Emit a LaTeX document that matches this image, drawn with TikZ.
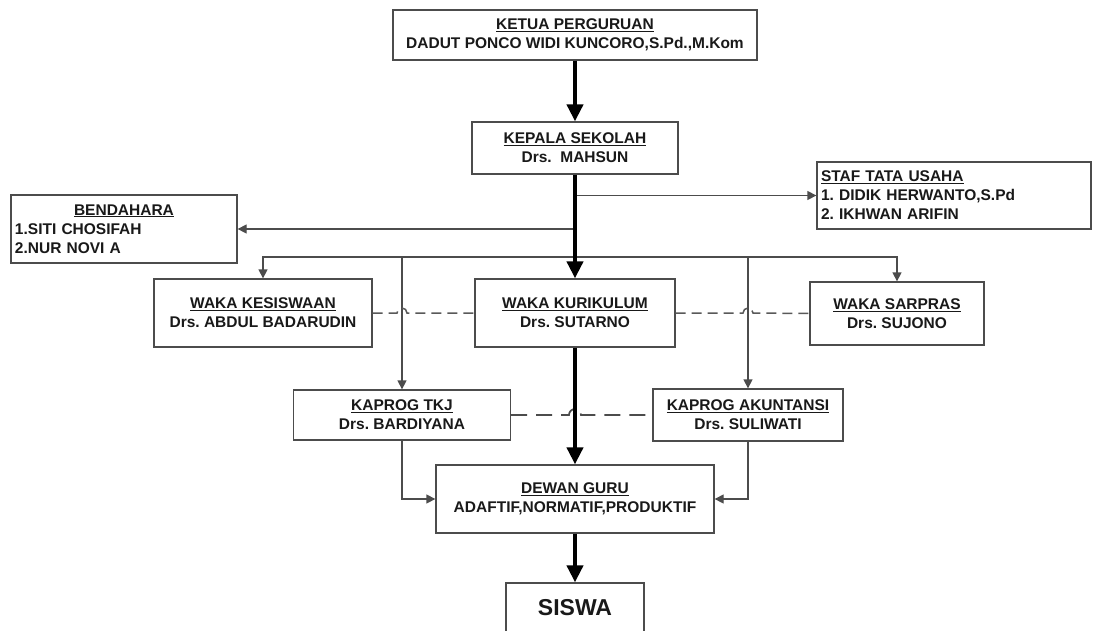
\documentclass[tikz,border=0pt]{standalone}
\usepackage{fontspec}
\setmainfont{Liberation Sans}
\usetikzlibrary{arrows.meta}
\frenchspacing
\begin{document}
\begin{tikzpicture}[x=1pt,y=-1pt,
  box/.style={draw=black!70, line width=1.3pt, fill=white, inner sep=0pt,
    font=\bfseries\fontsize{15.5}{19}\selectfont, align=center, text=black!90},
  thick arrow/.style={line width=4pt, draw=black, -{Triangle[length=17pt,width=16pt]}},
  thin arrow/.style={line width=1.3pt, draw=black!70, -{Triangle[length=9pt,width=9pt]}},
  dashA/.style={line width=1.5pt, draw=black!65, dash pattern=on 10pt off 6pt},
  dashB/.style={line width=1.7pt, draw=black!70, dash pattern=on 16pt off 9pt}]
\useasboundingbox (0,0) rectangle (1093,630);
\clip (0,0) rectangle (1093,630);
\fill[white] (0,0) rectangle (1093,630);

\node[box, minimum width=364pt, minimum height=50pt] (ketua) at (575,35)
  {\underline{KETUA PERGURUAN}\\DADUT PONCO WIDI KUNCORO,S.Pd.,M.Kom};
\node[box, minimum width=206pt, minimum height=52pt] (kepala) at (575,148)
  {\underline{KEPALA SEKOLAH}\\Drs.\ \ MAHSUN};
\node[box, minimum width=274pt, minimum height=67pt, text width=266pt, align=left] (staf) at (954,195.5)
  {\underline{STAF TATA USAHA}\\1. DIDIK HERWANTO,S.Pd\\2. IKHWAN ARIFIN};
\node[box, minimum width=226pt, minimum height=68pt, text width=218pt, align=left] (bend) at (124,229)
  {\makebox[218pt]{\underline{BENDAHARA}}\\1.SITI CHOSIFAH\\2.NUR NOVI A};
\node[box, minimum width=218pt, minimum height=68pt] (kesis) at (263,313)
  {\underline{WAKA KESISWAAN}\\Drs. ABDUL BADARUDIN};
\node[box, minimum width=200pt, minimum height=68pt] (kurik) at (575,313)
  {\underline{WAKA KURIKULUM}\\Drs. SUTARNO};
\node[box, minimum width=174pt, minimum height=63pt] (sarpras) at (897,313.5)
  {\underline{WAKA SARPRAS}\\Drs. SUJONO};
\node[box, minimum width=217pt, minimum height=50pt] (tkj) at (402,415)
  {\underline{KAPROG TKJ}\\Drs. BARDIYANA};
\node[box, minimum width=190pt, minimum height=52pt] (akun) at (748,415)
  {\underline{KAPROG AKUNTANSI}\\Drs. SULIWATI};
\node[box, minimum width=278pt, minimum height=68pt] (dewan) at (575,499)
  {\underline{DEWAN GURU}\\ADAFTIF,NORMATIF,PRODUKTIF};
\node[box, minimum width=138pt, minimum height=50pt, font=\bfseries\fontsize{23}{27}\selectfont] (siswa) at (575,608)
  {SISWA};

% branch coordinates on the main axis
\coordinate (cStaf) at (kepala.south |- staf.west);
\coordinate (cBend) at (kepala.south |- bend.east);
\coordinate (cBranch) at (575,257);

% thin connectors
\draw[thin arrow] (cStaf) -- (staf.west);
\draw[thin arrow] (cBend) -- (bend.east);
\draw[thin arrow] (cBranch) -| (kesis.north);
\draw[thin arrow] (cBranch) -| (sarpras.north);
\draw[thin arrow] (tkj.north |- cBranch) -- (tkj.north);
\draw[thin arrow] (akun.north |- cBranch) -- (akun.north);
\draw[thin arrow] (tkj.south) |- (dewan.west);
\draw[thin arrow] (akun.south) |- (dewan.east);

% dashed coordination lines with line hops
\coordinate (h1) at (tkj.north |- kesis.east);
\coordinate (h2) at (akun.north |- kurik.east);
\coordinate (h3) at (kurik.south |- tkj.east);
\draw[dashA] (kesis.east) -- ([xshift=-5pt]h1) arc[start angle=180,end angle=0,radius=5pt] -- (kurik.west);
\draw[dashA] (kurik.east) -- ([xshift=-5pt]h2) arc[start angle=180,end angle=0,radius=5pt] -- (sarpras.west);
\draw[dashB] (tkj.east) -- ([xshift=-6pt]h3) arc[start angle=180,end angle=0,radius=6pt] -- (akun.west);

% thick main line
\draw[thick arrow] (ketua.south) -- (kepala.north);
\draw[thick arrow] (kepala.south) -- (kurik.north);
\draw[thick arrow] (kurik.south) -- (dewan.north);
\draw[thick arrow] (dewan.south) -- (siswa.north);
\end{tikzpicture}
\end{document}
